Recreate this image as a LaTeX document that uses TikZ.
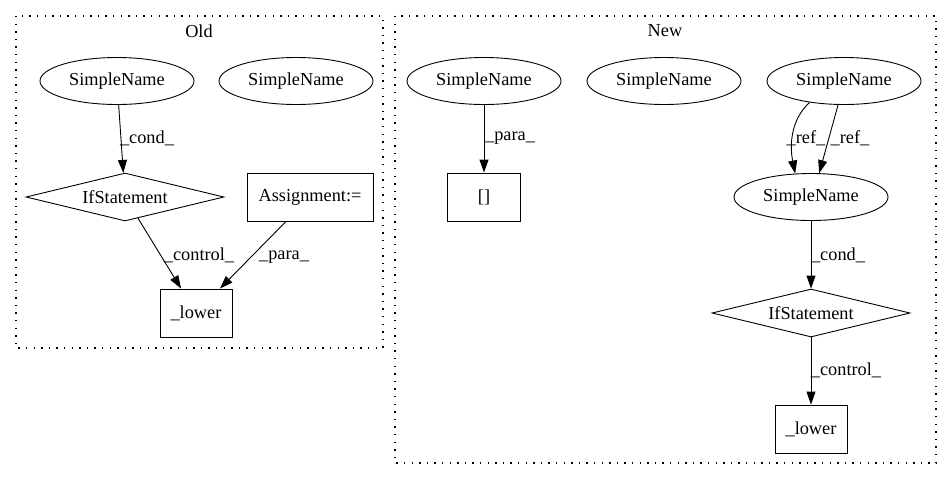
\documentclass[tikz,border=0pt]{standalone}
\usepackage{fontspec}
\setmainfont{Liberation Serif}
\usetikzlibrary{arrows.meta,shapes.geometric}
\tikzset{
  base/.style={font=\fontsize{18.3}{20}\selectfont, inner sep=0pt},
  ell/.style={base, draw, ellipse, line width=0.9pt, minimum width=154pt, minimum height=47pt},
  boxn/.style={base, draw, rectangle, line width=0.9pt, minimum height=48pt},
  dia/.style={base, draw, diamond, aspect=4, line width=0.9pt, minimum width=198pt, minimum height=48pt},
  lbl/.style={base},
  edge/.style={line width=0.9pt, -{Triangle[length=13pt,width=9pt]}},
  cluster/.style={line width=1.1pt, dash pattern=on 1.4pt off 6.2pt}
}
\begin{document}
\begin{tikzpicture}[x=1pt,y=-1pt]
\fill[white] (0,0) rectangle (944,480);
\useasboundingbox (0,0) rectangle (944,480);
% clusters
\draw[cluster] (16,16) rectangle (383,348);
\draw[cluster] (395,16) rectangle (936,463);
\node[lbl] (toldt) at (199,31) {Old};
\node[lbl] (tnew) at (665,31) {New};
% Old
\node[ell] (os1) at (117,81) {SimpleName};
\node[ell] (os2) at (296,81) {SimpleName};
\node[dia] (oif) at (125,197) {IfStatement};
\node[boxn, minimum width=126pt] (oas) at (310,197) {Assignment:=};
\node[boxn, minimum width=72pt] (olow) at (196,313) {\_lower};
\draw[edge] (os1) -- (oif);
\draw[edge] (oif) -- (olow);
\draw[edge] (oas) -- (olow);
\node[lbl] (l1) at (147,138) {\_cond\_};
\node[lbl] (l2) at (199,255) {\_control\_};
\node[lbl] (l3) at (284,257) {\_para\_};
% New
\node[ell] (na) at (484,81) {SimpleName};
\node[ell] (nb) at (664,81) {SimpleName};
\node[ell] (nc) at (844,81) {SimpleName};
\node[boxn, minimum width=73pt] (nbr) at (484,197) {[]};
\node[ell] (nd) at (811,197) {SimpleName};
\node[dia] (nif) at (811,313) {IfStatement};
\node[boxn, minimum width=72pt] (nlow) at (811,429) {\_lower};
\draw[edge] (na) -- (nbr);
\draw[edge] (nc.212) .. controls +(-18,16) and +(-6,-30) .. (nd.124);
\draw[edge] (nc.256) -- (nd.71);
\draw[edge] (nd) -- (nif);
\draw[edge] (nif) -- (nlow);
\node[lbl] (l4) at (510,138) {\_para\_};
\node[lbl] (l5) at (806,138) {\_ref\_};
\node[lbl] (l6) at (850,138) {\_ref\_};
\node[lbl] (l7) at (838,255) {\_cond\_};
\node[lbl] (l8) at (846,370) {\_control\_};
\end{tikzpicture}
\end{document}
